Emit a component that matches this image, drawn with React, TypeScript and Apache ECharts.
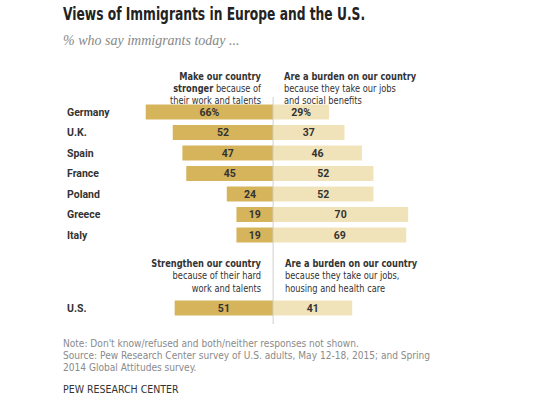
import React, { useEffect, useRef } from "react";
import * as echarts from "echarts";

const countries = ["Germany", "U.K.", "Spain", "France", "Poland", "Greece", "Italy"];
const strongerEU = [66, 52, 47, 45, 24, 19, 19];
const burdenEU = [29, 37, 46, 52, 52, 70, 69];
const usCategory = ["U.S."];
const strongerUS = [51];
const burdenUS = [41];

const SANS = "'DejaVu Sans Condensed', Roboto, sans-serif";
const LABEL_FONT = "Roboto, 'DejaVu Sans Condensed', sans-serif";
const SERIF = "'Liberation Serif', 'DejaVu Serif', serif";
const DARK = "#D5B45B";
const LIGHT = "#F1E3B9";

const xMin = -70;
const xMax = 80;
const gridLeft = 138;
const gridWidth = 289.5;
const zeroX = gridLeft + ((0 - xMin) / (xMax - xMin)) * gridWidth;

export default function App() {
  const ref = useRef<HTMLDivElement>(null);
  useEffect(() => {
    if (!ref.current) return;
    const chart = echarts.init(ref.current, undefined, { renderer: "svg" });
    const barLabel = (withPct: boolean) => ({
      show: true,
      position: "inside" as const,
      color: "#333",
      fontWeight: "bold" as const,
      fontSize: 10.5,
      fontFamily: LABEL_FONT,
      formatter: (p: any) => Math.abs(p.value) + (withPct && p.dataIndex === 0 ? "%" : ""),
    });
    const yAxisCommon = {
      type: "category" as const,
      inverse: true,
      axisLine: { show: false },
      axisTick: { show: false },
      splitLine: { show: false },
      axisLabel: {
        align: "left" as const,
        margin: gridLeft - 67,
        fontWeight: "bold" as const,
        fontSize: 10.5,
        color: "#333",
        fontFamily: LABEL_FONT,
      },
    };
    const t = (x: number, y: number, text: string, extra: any = {}, scaleX = 1) => ({
      type: "text",
      x,
      y,
      scaleX,
      style: {
        text,
        fontFamily: SANS,
        fontSize: 11,
        fill: "#333",
        verticalAlign: "middle",
        ...extra,
      },
    });
    const H = 0.835;
    const rich = {
      b: { fontWeight: "bold", fontSize: 11, fontFamily: SANS, fill: "#333" },
      r: { fontSize: 11, fontFamily: SANS, fill: "#333" },
    };
    chart.setOption({
      animation: false,
      backgroundColor: "#fff",
      grid: [
        { left: gridLeft, width: gridWidth, top: 101.75, height: 143.5 },
        { left: gridLeft, width: gridWidth, top: 297.75, height: 20.5 },
      ],
      xAxis: [
        { type: "value", gridIndex: 0, min: xMin, max: xMax, show: false },
        { type: "value", gridIndex: 1, min: xMin, max: xMax, show: false },
      ],
      yAxis: [
        { ...yAxisCommon, gridIndex: 0, data: countries },
        { ...yAxisCommon, gridIndex: 1, data: usCategory },
      ],
      series: [
        {
          type: "bar", xAxisIndex: 0, yAxisIndex: 0, barWidth: 15, barGap: "-100%",
          data: strongerEU.map((v) => -v), itemStyle: { color: DARK }, label: barLabel(true), silent: true,
        },
        {
          type: "bar", xAxisIndex: 0, yAxisIndex: 0, barWidth: 15, barGap: "-100%",
          data: burdenEU, itemStyle: { color: LIGHT }, label: barLabel(true), silent: true,
        },
        {
          type: "bar", xAxisIndex: 1, yAxisIndex: 1, barWidth: 15, barGap: "-100%",
          data: strongerUS.map((v) => -v), itemStyle: { color: DARK }, label: barLabel(false), silent: true,
        },
        {
          type: "bar", xAxisIndex: 1, yAxisIndex: 1, barWidth: 15, barGap: "-100%",
          data: burdenUS, itemStyle: { color: LIGHT }, label: barLabel(false), silent: true,
        },
      ],
      graphic: [
        { type: "line", shape: { x1: zeroX, y1: 97, x2: zeroX, y2: 324 }, style: { stroke: "#cfcfcf", lineWidth: 1 }, z: 10 },
        t(63, 14, "Views of Immigrants in Europe and the U.S.", { fontSize: 17.5, fontWeight: "bold", fill: "#222" }, 0.78),
        t(63, 40, "% who say immigrants today ...", { fontSize: 14, fontStyle: "italic", fontFamily: SERIF, fill: "#888" }),
        t(261, 76, "Make our country", { align: "right", fontWeight: "bold" }, H),
        t(261, 88, "{b|stronger}{r| because of}", { align: "right", rich }, H),
        t(261, 100, "their work and talents", { align: "right" }, H),
        t(284, 76, "Are a burden on our country", { fontWeight: "bold" }, H),
        t(284, 88, "because they take our jobs", {}, H),
        t(284, 100, "and social benefits", {}, H),
        t(261, 263, "Strengthen our country", { align: "right", fontWeight: "bold" }, H),
        t(261, 275.5, "because of their hard", { align: "right" }, H),
        t(261, 288, "work and talents", { align: "right" }, H),
        t(285, 263, "Are a burden on our country", { fontWeight: "bold" }, H),
        t(285, 275.5, "because they take our jobs,", {}, H),
        t(285, 288, "housing and health care", {}, H),
        t(63, 343, "Note: Don't know/refused and both/neither responses not shown.", { fontSize: 10.5, fill: "#8a8a8a" }, 0.96),
        t(63, 355, "Source: Pew Research Center survey of U.S. adults, May 12-18, 2015; and Spring", { fontSize: 10.5, fill: "#8a8a8a" }, 0.96),
        t(63, 366.5, "2014 Global Attitudes survey.", { fontSize: 10.5, fill: "#8a8a8a" }, 0.96),
        t(63, 389, "PEW RESEARCH CENTER", { fontSize: 10.5, fill: "#333" }),
      ],
    });
    return () => chart.dispose();
  }, []);
  return <div ref={ref} style={{ position: "fixed", left: 0, top: 0, width: 560, height: 405 }} />;
}
